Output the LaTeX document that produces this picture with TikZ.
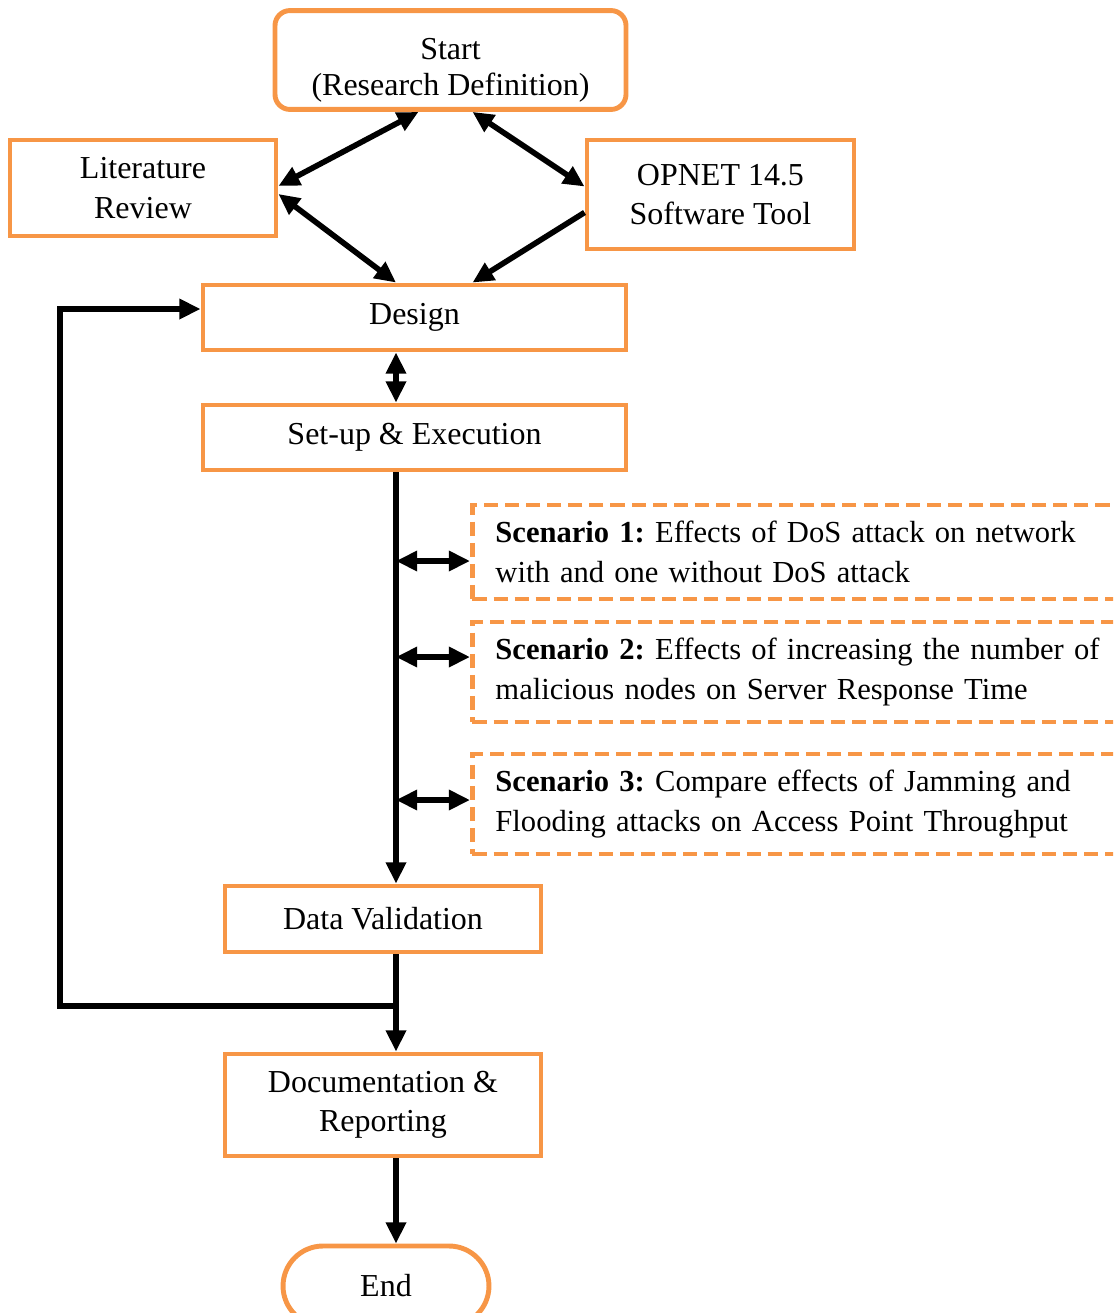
\documentclass[tikz,border=0pt]{standalone}
\usepackage{fontspec}
\setmainfont{Liberation Serif}
\usepackage{tikz}
\usetikzlibrary{arrows.meta,positioning,calc,shapes.misc}
\definecolor{boxorange}{RGB}{247,150,70}

\begin{document}
\frenchspacing
\begin{tikzpicture}[
    font=\fontsize{9.1}{11.2}\selectfont,
    stage/.style={draw=boxorange, line width=1.4pt, align=center, inner sep=2pt},
    scenario/.style={draw=boxorange, line width=1.4pt, dash pattern=on 4pt off 2pt,
        anchor=west, text width=7cm, align=left, inner xsep=0.23cm,
        font=\fontsize{8.7}{11.4}\selectfont},
    link/.style={line width=1.6pt, -{Triangle[length=6pt,width=5.5pt]}},
    twoway/.style={line width=1.6pt, {Triangle[length=6pt,width=5.5pt]}-{Triangle[length=6pt,width=5.5pt]}}
]
    \clip (0,0) rectangle (11.13,-13.13);

    % Top row
    \node[stage, rounded corners=0.15cm, minimum width=3.51cm, minimum height=0.96cm] (start) at (4.505,-0.60)
        {\rule{0pt}{12pt}Start\\[-1pt](Research Definition)};
    \node[stage, minimum width=2.66cm, minimum height=0.96cm] (lit) at (1.43,-1.88) {Literature\\Review};
    \node[stage, minimum width=2.67cm, minimum height=1.09cm] (opnet) at (7.205,-1.945) {OPNET 14.5\\Software Tool};

    % Main column
    \node[stage, minimum width=4.23cm, minimum height=0.65cm] (design) at (4.145,-3.175) {Design};
    \node[stage, minimum width=4.23cm, minimum height=0.65cm] (setup) at (4.145,-4.375) {Set-up \& Execution};
    \node[stage, minimum width=3.16cm, minimum height=0.66cm] (dval) at (3.83,-9.19) {Data Validation};
    \node[stage, minimum width=3.16cm, minimum height=1.02cm] (doc) at (3.83,-11.05) {Documentation \&\\Reporting};
    \node[stage, rounded rectangle, minimum width=2.2cm, minimum height=0.8cm] (end) at (3.86,-12.86) {End};

    % Scenarios
    \node[scenario, minimum height=0.94cm] (s1) at (4.70,-5.52)
        {\textbf{Scenario 1:} Effects of DoS attack on network\\with and one without DoS attack};
    \node[scenario, minimum height=1.0cm] (s2) at (4.70,-6.72)
        {\textbf{Scenario 2:} Effects of increasing the number of\\malicious nodes on Server Response Time};
    \node[scenario, minimum height=1.0cm] (s3) at (4.70,-8.04)
        {\textbf{Scenario 3:} Compare effects of Jamming and\\Flooding attacks on Access Point Throughput};

    % Connectors
    \coordinate (trunk) at (3.96,0);
    \draw[twoway] ([xshift=-0.32cm]start.south) -- ([yshift=0.02cm]lit.east);
    \draw[twoway] ([xshift=0.22cm]start.south) -- ([yshift=0.08cm]opnet.west);
    \draw[twoway] ([yshift=-0.06cm]lit.east) -- (design.north -| trunk);
    \draw[link] ([yshift=-0.18cm]opnet.west) -- ([xshift=0.58cm]design.north);
    \draw[twoway] (design.south -| trunk) -- (setup.north -| trunk);
    \draw[link] (setup.south -| trunk) -- (dval.north -| trunk);
    \draw[twoway] ([yshift=-0.09cm]s1.west -| trunk) -- ([yshift=-0.09cm]s1.west);
    \draw[twoway] ([yshift=0.15cm]s2.west -| trunk) -- ([yshift=0.15cm]s2.west);
    \draw[twoway] ([yshift=0.04cm]s3.west -| trunk) -- ([yshift=0.04cm]s3.west);
    \draw[link] (dval.south -| trunk) -- (doc.north -| trunk);
    \draw[link] (doc.south -| trunk) -- (end.north -| trunk);

    % Feedback loop to design
    \coordinate (join) at (3.96,-10.06);
    \coordinate (loop) at (0.60,-10.06);
    \draw[link] (join) -- (loop) |- ([yshift=0.085cm]design.west);
\end{tikzpicture}
\end{document}
